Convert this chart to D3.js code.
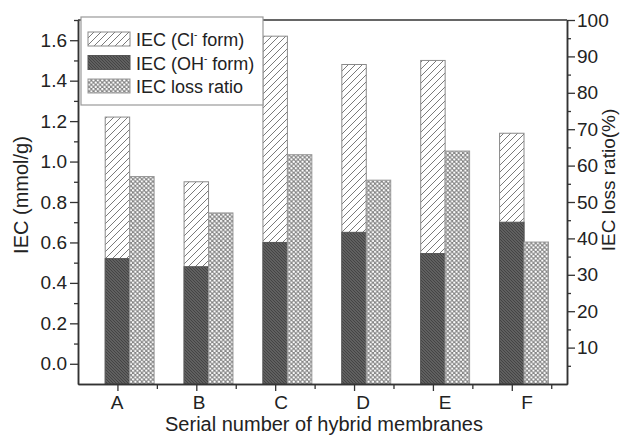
<!DOCTYPE html>
<html>
<head>
<meta charset="utf-8">
<script src="https://cdn.jsdelivr.net/npm/d3@7"></script>
<style>
  body { margin: 0; background: #fff; }
  svg text { font-family: "Liberation Sans", Arial, sans-serif; fill: #222; }
</style>
</head>
<body>
<div id="chart"></div>
<script>
// data
var categories = [ 'A', 'B', 'C', 'D', 'E', 'F' ];
var iecCl = [ 1.22, 0.90, 1.62, 1.48, 1.50, 1.14 ];   // mmol/g
var iecOH = [ 0.52, 0.48, 0.60, 0.65, 0.545, 0.70 ];  // mmol/g
var lossRatio = [ 57.0, 47.0, 63.0, 56.0, 64.0, 39.0 ]; // %
var leftTicks = [ 0.0, 0.2, 0.4, 0.6, 0.8, 1.0, 1.2, 1.4, 1.6 ];
var rightTicks = [ 10, 20, 30, 40, 50, 60, 70, 80, 90, 100 ];

var W = 622, H = 437;
var svg = d3.select( '#chart' ).append( 'svg' )
    .attr( 'width', W ).attr( 'height', H );

var x = d3.scaleLinear().domain( [ 0.5, 6.7 ] ).range( [ 78, 567 ] ),
    xLab = d3.scaleLinear().domain( [ 1, 6 ] ).range( [ 117, 527 ] ),
    yL = d3.scaleLinear().domain( [ -0.1, 1.7 ] ).range( [ 384, 20 ] ),
    yR = d3.scaleLinear().domain( [ 0, 100 ] ).range( [ 384, 20 ] ),
    bw = 0.31;

// patterns
var defs = svg.append( 'defs' );

var pCl = defs.append( 'pattern' ).attr( 'id', 'pCl' )
    .attr( 'patternUnits', 'userSpaceOnUse' ).attr( 'width', 7 ).attr( 'height', 7 );
pCl.append( 'rect' ).attr( 'width', 7 ).attr( 'height', 7 ).attr( 'fill', '#fff' );
pCl.append( 'path' ).attr( 'd', 'M-1,1 l2,-2 M0,7 l7,-7 M6,8 l2,-2' )
    .attr( 'stroke', '#7a7a7a' ).attr( 'stroke-width', 1 );

var pOH = defs.append( 'pattern' ).attr( 'id', 'pOH' )
    .attr( 'patternUnits', 'userSpaceOnUse' ).attr( 'width', 3 ).attr( 'height', 3 );
pOH.append( 'rect' ).attr( 'width', 3 ).attr( 'height', 3 ).attr( 'fill', '#606060' );
pOH.append( 'path' ).attr( 'd', 'M-1,-1 l5,5 M-1,2 l2,2 M2,-1 l2,2' )
    .attr( 'stroke', '#3c3c3c' ).attr( 'stroke-width', 0.8 );

var pLoss = defs.append( 'pattern' ).attr( 'id', 'pLoss' )
    .attr( 'patternUnits', 'userSpaceOnUse' ).attr( 'width', 4.4 ).attr( 'height', 4.4 );
pLoss.append( 'rect' ).attr( 'width', 4.4 ).attr( 'height', 4.4 ).attr( 'fill', '#858585' );
[ [ 1.1, 1.1 ], [ 3.3, 3.3 ] ].forEach( function( c ){
    pLoss.append( 'circle' ).attr( 'cx', c[0] ).attr( 'cy', c[1] ).attr( 'r', 1.15 ).attr( 'fill', '#fff' );
} );

// bars
var g = svg.append( 'g' );
var idx = d3.range( categories.length );

g.selectAll( '.cl' ).data( idx ).join( 'rect' )
    .attr( 'x', function( i ){ return x( i + 1 - bw / 2 ); } )
    .attr( 'width', function( i ){ return x( i + 1 + bw / 2 ) - x( i + 1 - bw / 2 ); } )
    .attr( 'y', function( i ){ return yL( iecCl[i] ); } )
    .attr( 'height', function( i ){ return yL( -0.1 ) - yL( iecCl[i] ); } )
    .attr( 'fill', 'url(#pCl)' ).attr( 'stroke', '#8a8a8a' ).attr( 'stroke-width', 1 );

g.selectAll( '.oh' ).data( idx ).join( 'rect' )
    .attr( 'x', function( i ){ return x( i + 1 - bw / 2 ); } )
    .attr( 'width', function( i ){ return x( i + 1 + bw / 2 ) - x( i + 1 - bw / 2 ); } )
    .attr( 'y', function( i ){ return yL( iecOH[i] ); } )
    .attr( 'height', function( i ){ return yL( -0.1 ) - yL( iecOH[i] ); } )
    .attr( 'fill', 'url(#pOH)' ).attr( 'stroke', '#555' ).attr( 'stroke-width', 1 );

g.selectAll( '.loss' ).data( idx ).join( 'rect' )
    .attr( 'x', function( i ){ return x( i + 1 + bw / 2 ); } )
    .attr( 'width', function( i ){ return x( i + 1 + 1.5 * bw ) - x( i + 1 + bw / 2 ); } )
    .attr( 'y', function( i ){ return yR( lossRatio[i] ); } )
    .attr( 'height', function( i ){ return yR( 0 ) - yR( lossRatio[i] ); } )
    .attr( 'fill', 'url(#pLoss)' ).attr( 'stroke', '#999' ).attr( 'stroke-width', 1 );

// axes
function styleAxis( sel ){
    sel.selectAll( 'path' ).attr( 'stroke', '#333' ).attr( 'stroke-width', 1.5 );
    sel.selectAll( 'line' ).attr( 'stroke', '#333' ).attr( 'stroke-width', 1.3 );
    sel.selectAll( 'text' ).attr( 'font-size', 19 ).attr( 'fill', '#222' )
        .style( 'font-family', '"Liberation Sans", Arial, sans-serif' );
}

var ax = svg.append( 'g' );

// left
ax.append( 'g' ).attr( 'transform', 'translate(78,0)' )
    .call( d3.axisLeft( yL ).tickValues( leftTicks ).tickFormat( d3.format( '.1f' ) )
        .tickSize( 8 ).tickSizeOuter( 0 ).tickPadding( 3 ) )
    .call( styleAxis );
ax.append( 'g' ).attr( 'transform', 'translate(78,0)' )
    .call( d3.axisLeft( yL ).tickValues( leftTicks.map( function( v ){ return v + 0.1; } ) )
        .tickFormat( '' ).tickSize( 4 ).tickSizeOuter( 0 ) )
    .call( styleAxis );

// right
ax.append( 'g' ).attr( 'transform', 'translate(567,0)' )
    .call( d3.axisRight( yR ).tickValues( rightTicks ).tickSize( 8 ).tickSizeOuter( 0 ).tickPadding( 2 ) )
    .call( styleAxis );
ax.append( 'g' ).attr( 'transform', 'translate(567,0)' )
    .call( d3.axisRight( yR ).tickValues( rightTicks.map( function( v ){ return v - 5; } ) )
        .tickFormat( '' ).tickSize( 4 ).tickSizeOuter( 0 ) )
    .call( styleAxis );

// bottom
ax.append( 'g' ).attr( 'transform', 'translate(0,384)' )
    .call( d3.axisBottom( x ).tickValues( d3.range( 1, 7 ) ).tickFormat( '' ).tickSize( 7 ).tickSizeOuter( 0 ) )
    .call( styleAxis );
ax.append( 'g' ).attr( 'transform', 'translate(0,384)' )
    .call( d3.axisBottom( x ).tickValues( d3.range( 1.5, 7, 1 ) ).tickFormat( '' ).tickSize( 5 ).tickSizeOuter( 0 ) )
    .call( styleAxis );
ax.selectAll( '.xlab' ).data( categories ).join( 'text' )
    .attr( 'x', function( d, i ){ return xLab( i + 1 ); } )
    .attr( 'y', 409 )
    .attr( 'text-anchor', 'middle' ).attr( 'font-size', 19 )
    .text( function( d ){ return d; } );

// top frame line
ax.append( 'line' ).attr( 'x1', x( 0.5 ) ).attr( 'x2', x( 6.7 ) )
    .attr( 'y1', yL( 1.7 ) ).attr( 'y2', yL( 1.7 ) )
    .attr( 'stroke', '#333' ).attr( 'stroke-width', 1.5 );

// titles
svg.append( 'text' ).attr( 'transform', 'translate(28,195) rotate(-90)' )
    .attr( 'text-anchor', 'middle' ).attr( 'font-size', 20 ).text( 'IEC (mmol/g)' );
svg.append( 'text' ).attr( 'transform', 'translate(615,180) rotate(-90)' )
    .attr( 'text-anchor', 'middle' ).attr( 'font-size', 19 ).text( 'IEC loss ratio(%)' );
svg.append( 'text' ).attr( 'x', 324 ).attr( 'y', 431 )
    .attr( 'text-anchor', 'middle' ).attr( 'font-size', 20 ).text( 'Serial number of hybrid membranes' );

// legend
var leg = svg.append( 'g' );
leg.append( 'rect' ).attr( 'x', 81 ).attr( 'y', 17 ).attr( 'width', 182 ).attr( 'height', 88 )
    .attr( 'fill', '#fff' ).attr( 'stroke', '#999' ).attr( 'stroke-width', 1.2 );

var legItems = [
    { fill: 'url(#pCl)', stroke: '#8a8a8a', label: [ 'IEC (Cl', 'form)' ] },
    { fill: 'url(#pOH)', stroke: '#555', label: [ 'IEC (OH', 'form)' ] },
    { fill: 'url(#pLoss)', stroke: '#999', label: [ 'IEC loss ratio' ] }
];
legItems.forEach( function( d, i ){
    var yy = 32 + i * 23.5;
    leg.append( 'rect' ).attr( 'x', 88 ).attr( 'y', yy ).attr( 'width', 42 ).attr( 'height', 14 )
        .attr( 'fill', d.fill ).attr( 'stroke', d.stroke ).attr( 'stroke-width', 1 );
    var t = leg.append( 'text' ).attr( 'x', 136 ).attr( 'y', yy + 14 ).attr( 'font-size', 18 );
    t.append( 'tspan' ).text( d.label[0] );
    if ( d.label.length > 1 ){
        t.append( 'tspan' ).attr( 'dy', -8 ).attr( 'font-size', 10 ).text( '-' );
        t.append( 'tspan' ).attr( 'dy', 8 ).text( ' ' + d.label[1] );
    }
} );
</script>
</body>
</html>
